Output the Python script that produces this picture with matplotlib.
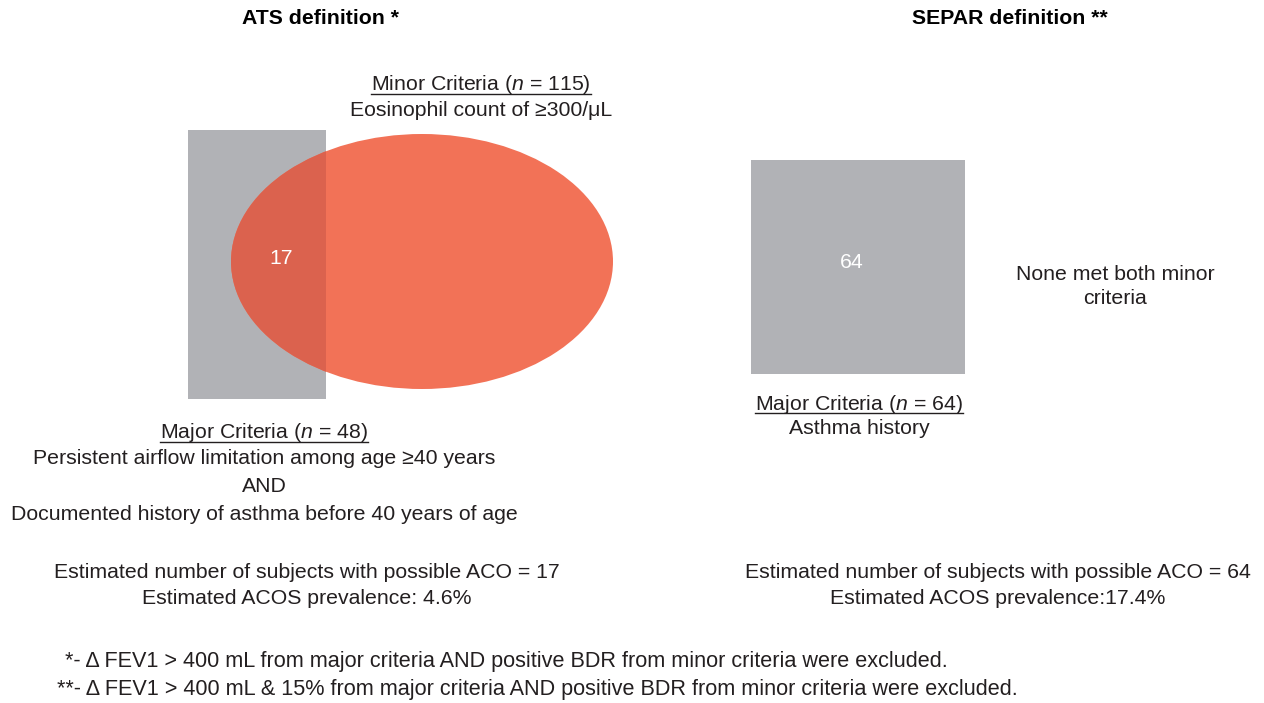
import matplotlib
matplotlib.use("Agg")
import matplotlib.pyplot as plt
from matplotlib.patches import Rectangle, Ellipse

plt.rcParams['font.family'] = ['Liberation Sans', 'DejaVu Sans']
plt.rcParams['mathtext.fontset'] = 'custom'
plt.rcParams['mathtext.rm'] = 'Liberation Sans'
plt.rcParams['mathtext.it'] = 'Liberation Sans:italic'

# ---- data ----
titles = ["ATS definition *", "SEPAR definition **"]
ats_major_n = 48
ats_minor_n = 115
ats_overlap = 17
separ_major_n = 64
separ_overlap = 64
ats_major_desc = ["Persistent airflow limitation among age \u226540 years", "AND",
                  "Documented history of asthma before 40 years of age"]
ats_minor_desc = "Eosinophil count of \u2265300/\u03bcL"
separ_major_desc = "Asthma history"
separ_minor_note = ["None met both minor", "criteria"]
ats_prev = 4.6
separ_prev = 17.4
footnotes = ["*- \u0394 FEV1 > 400 mL from major criteria AND positive BDR from minor criteria were excluded.",
             "**- \u0394 FEV1 > 400 mL & 15% from major criteria AND positive BDR from minor criteria were excluded."]

grey = "#b1b2b6"
orange = "#f27257"
overlap_col = "#db624e"
txt = "#231f20"
fs = 15.3

W, H = 1264, 703
fig = plt.figure(figsize=(W / 100, H / 100), dpi=100)
ax = fig.add_axes([0, 0, 1, 1])
ax.set_xlim(0, W)
ax.set_ylim(H, 0)
ax.axis("off")

def T(x, y, s, **kw):
    kw.setdefault("fontsize", fs)
    kw.setdefault("color", txt)
    return ax.text(x, y, s, ha=kw.pop("ha", "center"), va="center", **kw)

# ---- ATS Venn ----
ax.add_patch(Rectangle((188, 130), 138, 269, facecolor=grey, edgecolor="none", zorder=1))
ax.add_patch(Ellipse((422, 261.5), 382, 255, facecolor=orange, edgecolor="none", zorder=2))
ell2 = Ellipse((422, 261.5), 382, 255, facecolor=overlap_col, edgecolor="none", zorder=3)
ax.add_patch(ell2)
ell2.set_clip_path(Rectangle((188, 130), 138, 269, transform=ax.transData))
T(281, 259, str(ats_overlap), color="white", zorder=5)

# ---- SEPAR ----
ax.add_patch(Rectangle((751, 160), 214, 214, facecolor=grey, edgecolor="none", zorder=1))
T(852, 262, str(separ_overlap), color="white", zorder=5)

# titles
T(320, 19, titles[0], fontweight="bold", color="black")
T(1010, 19, titles[1], fontweight="bold", color="black")

underlined = []
def utext(x, y, s):
    t = T(x, y, s)
    underlined.append(t)
    return t

utext(481, 85, "Minor Criteria ($\\it{n}$ = %d)" % ats_minor_n)
T(481, 110, ats_minor_desc)

utext(264, 433, "Major Criteria ($\\it{n}$ = %d)" % ats_major_n)
for i, line in enumerate(ats_major_desc):
    T(264, 459 + i * 27.5, line)

utext(859, 404, "Major Criteria ($\\it{n}$ = %d)" % separ_major_n)
T(859, 428, separ_major_desc)

T(1115, 275, separ_minor_note[0])
T(1115, 299, separ_minor_note[1])

T(307, 573, "Estimated number of subjects with possible ACO = %d" % ats_overlap)
T(307, 598, "Estimated ACOS prevalence: %.1f%%" % ats_prev)
T(998, 573, "Estimated number of subjects with possible ACO = %d" % separ_overlap)
T(998, 598, "Estimated ACOS prevalence:%.1f%%" % separ_prev)

T(65, 661, footnotes[0], fontsize=15.55, ha="left")
T(57, 690, footnotes[1], fontsize=15.55, ha="left")

# underlines
fig.canvas.draw()
r = fig.canvas.get_renderer()
inv = ax.transData.inverted()
for t in underlined:
    bb = t.get_window_extent(r)
    (x0, y0), (x1, y1) = inv.transform([[bb.x0, bb.y0], [bb.x1, bb.y1]])
    ax.plot([x0, x1], [y0 - 2.5, y0 - 2.5], color=txt, lw=1.0)

fig.savefig("out.png", dpi=100, facecolor="white")
